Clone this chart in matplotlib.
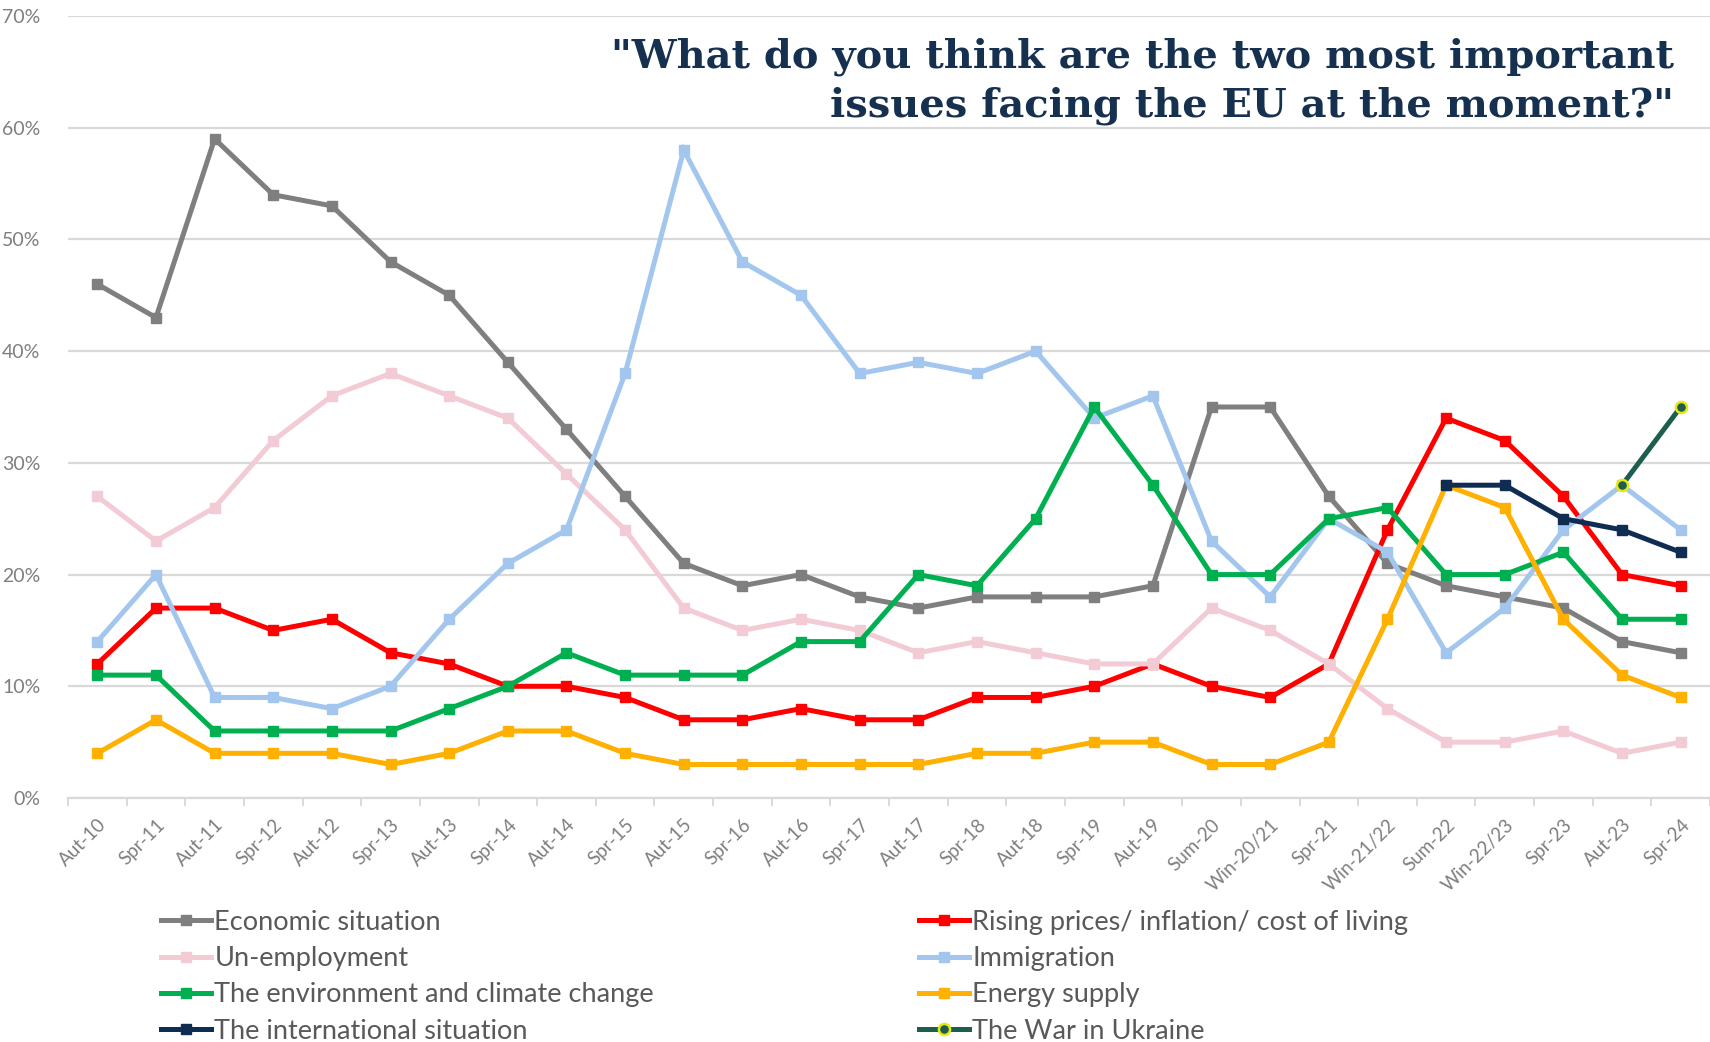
import matplotlib
matplotlib.use("Agg")
import matplotlib.pyplot as plt
from matplotlib.ticker import PercentFormatter, FixedLocator
import numpy as np

# survey waves
waves = ["Aut-10", "Spr-11", "Aut-11", "Spr-12", "Aut-12", "Spr-13", "Aut-13",
         "Spr-14", "Aut-14", "Spr-15", "Aut-15", "Spr-16", "Aut-16", "Spr-17",
         "Aut-17", "Spr-18", "Aut-18", "Spr-19", "Aut-19", "Sum-20", "Win-20/21",
         "Spr-21", "Win-21/22", "Sum-22", "Win-22/23", "Spr-23", "Aut-23", "Spr-24"]

economic = [46, 43, 59, 54, 53, 48, 45, 39, 33, 27, 21, 19, 20, 18,
            17, 18, 18, 18, 19, 35, 35, 27, 21, 19, 18, 17, 14, 13]
rising_prices = [12, 17, 17, 15, 16, 13, 12, 10, 10, 9, 7, 7, 8, 7,
                 7, 9, 9, 10, 12, 10, 9, 12, 24, 34, 32, 27, 20, 19]
unemployment = [27, 23, 26, 32, 36, 38, 36, 34, 29, 24, 17, 15, 16, 15,
                13, 14, 13, 12, 12, 17, 15, 12, 8, 5, 5, 6, 4, 5]
immigration = [14, 20, 9, 9, 8, 10, 16, 21, 24, 38, 58, 48, 45, 38,
               39, 38, 40, 34, 36, 23, 18, 25, 22, 13, 17, 24, 28, 24]
environment = [11, 11, 6, 6, 6, 6, 8, 10, 13, 11, 11, 11, 14, 14,
               20, 19, 25, 35, 28, 20, 20, 25, 26, 20, 20, 22, 16, 16]
energy = [4, 7, 4, 4, 4, 3, 4, 6, 6, 4, 3, 3, 3, 3,
          3, 4, 4, 5, 5, 3, 3, 5, 16, 28, 26, 16, 11, 9]
# only asked from Sum-22 / Aut-23 onwards
intl_waves = ["Sum-22", "Win-22/23", "Spr-23", "Aut-23", "Spr-24"]
international = [28, 28, 25, 24, 22]
war_waves = ["Aut-23", "Spr-24"]
war_ukraine = [28, 35]

title = '"What do you think are the two most important\nissues facing the EU at the moment?"'

plt.rcParams['font.family'] = ['Lato', 'DejaVu Sans']

fig = plt.figure(figsize=(17.1, 10.42), dpi=100)
ax = fig.add_axes([68 / 1710, 244 / 1042, 1 - 68 / 1710, (1026 - 244) / 1042])

x = np.arange(len(waves))
idx = {w: i for i, w in enumerate(waves)}

lw = 3.6
ms = 7.5
series = [
    ("Economic situation", economic, "#7F7F7F"),
    ("Rising prices/ inflation/ cost of living", rising_prices, "#FF0000"),
    ("Un-employment", unemployment, "#F2CBD4"),
    ("Immigration", immigration, "#A3C6EE"),
    ("The environment and climate change", environment, "#00B050"),
    ("Energy supply", energy, "#FFB000"),
]
handles = {}
for name, vals, col in series:
    h, = ax.plot(x, np.array(vals) / 100, color=col, lw=lw, marker="s", ms=ms,
                 label=name, solid_joinstyle="miter")
    handles[name] = h

xi = [idx[w] for w in intl_waves]
h, = ax.plot(xi, np.array(international) / 100, color="#0F2D52", lw=lw, marker="s",
             ms=ms, label="The international situation")
handles["The international situation"] = h
xw = [idx[w] for w in war_waves]
h, = ax.plot(xw, np.array(war_ukraine) / 100, color="#1D5E4F", lw=lw, marker="o",
             ms=8, mfc="#1D5E4F", mec="#E8E810", mew=1.8, label="The War in Ukraine")
handles["The War in Ukraine"] = h

ax.set_xlim(-0.5, len(waves) - 0.5)
ax.set_ylim(0, 0.7)
ax.yaxis.set_major_locator(FixedLocator(np.arange(0, 0.71, 0.1)))
ax.yaxis.set_major_formatter(PercentFormatter(1.0, decimals=0))
ax.grid(axis="y", color="#D9D9D9", lw=1.6)
ax.set_axisbelow(True)
for s in ["top", "right", "left"]:
    ax.spines[s].set_visible(False)
ax.spines["bottom"].set_color("#D9D9D9")
ax.spines["bottom"].set_linewidth(1.6)

ax.set_xticks(x)
ax.set_xticklabels(waves, rotation=45, ha="right", va="top", rotation_mode="anchor",
                   fontsize=13.5, color="#7F7F7F")
ax.set_xticks(np.arange(-0.5, len(waves), 1), minor=True)
ax.tick_params(axis="x", which="major", length=0, pad=13)
ax.tick_params(axis="x", which="minor", length=6, color="#D9D9D9", width=1.4)
ax.tick_params(axis="y", length=0, pad=20, labelsize=14, labelcolor="#7F7F7F")

fig.text(0.979, 0.922, title, ha="right", va="center", multialignment="right",
         family="DejaVu Serif", fontweight="bold", fontsize=28.8, color="#16304F",
         linespacing=1.32)

left_names = ["Economic situation", "Un-employment",
              "The environment and climate change", "The international situation"]
right_names = ["Rising prices/ inflation/ cost of living", "Immigration",
               "Energy supply", "The War in Ukraine"]
for names, xpos in [(left_names, 161 / 1710), (right_names, 919 / 1710)]:
    leg = fig.legend([handles[n] for n in names], names, loc="upper left",
                     bbox_to_anchor=(xpos, 0.127), frameon=False, fontsize=19.5,
                     handlelength=1.85, handletextpad=0.12, labelspacing=0.42,
                     borderpad=0, borderaxespad=0)
    for t in leg.get_texts():
        t.set_color("#595959")

fig.savefig("out.png", dpi=100)
